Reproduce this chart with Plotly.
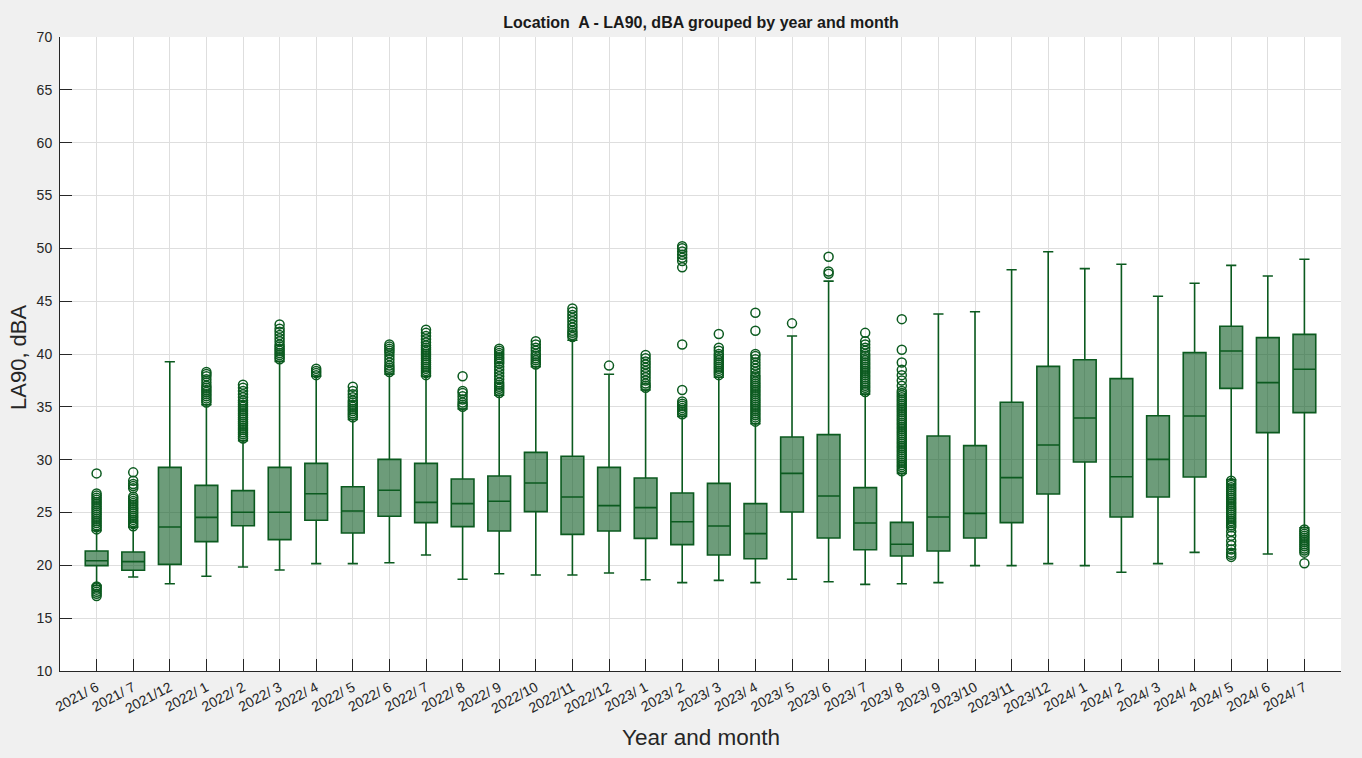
import plotly.graph_objects as go

# Month categories (year / month)
months = ["2021/ 6", "2021/ 7", "2021/12", "2022/ 1", "2022/ 2", "2022/ 3", "2022/ 4",
          "2022/ 5", "2022/ 6", "2022/ 7", "2022/ 8", "2022/ 9", "2022/10", "2022/11",
          "2022/12", "2023/ 1", "2023/ 2", "2023/ 3", "2023/ 4", "2023/ 5", "2023/ 6",
          "2023/ 7", "2023/ 8", "2023/ 9", "2023/10", "2023/11", "2023/12", "2024/ 1",
          "2024/ 2", "2024/ 3", "2024/ 4", "2024/ 5", "2024/ 6", "2024/ 7"]

# Box statistics, LA90 in dBA
q1 = [19.97, 19.53, 20.09, 22.24, 23.75, 22.43, 24.26, 23.06, 24.64, 24.04, 23.66, 23.25,
      25.08, 22.93, 23.25, 22.55, 21.96, 20.98, 20.63, 25.05, 22.59, 21.48, 20.88, 21.36,
      22.59, 24.04, 26.75, 29.78, 24.57, 26.47, 28.36, 36.75, 32.56, 34.45]
median = [20.44, 20.35, 23.63, 24.54, 25.02, 25.02, 26.78, 25.14, 27.10, 25.96, 25.84, 26.06,
          27.79, 26.47, 25.65, 25.46, 24.13, 23.72, 23.00, 28.70, 26.56, 24.00, 21.99, 24.57,
          24.92, 28.30, 31.39, 33.94, 28.39, 30.03, 34.13, 40.28, 37.29, 38.55]
q3 = [21.36, 21.26, 29.27, 27.57, 27.07, 29.27, 29.65, 27.44, 30.03, 29.65, 28.17, 28.45,
      30.69, 30.32, 29.27, 28.26, 26.85, 27.76, 25.84, 32.15, 32.37, 27.35, 24.07, 32.24,
      31.33, 35.43, 38.83, 39.46, 37.67, 34.16, 40.13, 42.62, 41.55, 41.86]
lower_whisker = [18.10, 18.90, 18.26, 18.96, 19.84, 19.56, 20.16, 20.16, 20.25, 20.98, 18.68,
                 19.21, 19.09, 19.09, 19.27, 18.64, 18.36, 18.58, 18.36, 18.68, 18.45, 18.20,
                 18.26, 18.36, 19.97, 19.97, 20.16, 19.97, 19.34, 20.16, 21.23, 28.10, 21.07,
                 23.55]
upper_whisker = [23.30, 23.60, 39.27, 35.20, 31.80, 39.30, 37.90, 33.80, 38.10, 37.90, 34.80,
                 36.10, 38.80, 41.30, 38.08, 36.60, 34.10, 37.80, 33.40, 41.70, 46.90, 36.20,
                 28.70, 43.79, 44.00, 47.98, 49.68, 48.08, 48.49, 45.46, 46.69, 48.39, 47.38,
                 48.96]

# Outlying observations per month
out_2021_06 = [17.1, 17.3, 17.5, 17.7, 17.9, 18.0,
               23.4, 23.6, 23.8, 24.0, 24.2, 24.4, 24.6, 24.8, 25.0, 25.2, 25.4, 25.6, 25.8,
               26.0, 26.2, 26.4, 26.6, 26.8, 28.7]
out_2021_07 = [23.7, 23.9, 24.1, 24.3, 24.5, 24.7, 24.9, 25.1, 25.3, 25.5, 25.7, 25.9, 26.1,
               26.3, 26.5, 27.3, 27.5, 27.7, 28.0, 28.8]
out_2022_01 = [35.4, 35.6, 35.8, 36.0, 36.2, 36.4, 36.6, 36.8, 37.0, 37.3, 37.6, 37.9, 38.1, 38.3]
out_2022_02 = [32.0, 32.2, 32.4, 32.6, 32.8, 33.0, 33.2, 33.4, 33.6, 33.8, 34.0, 34.2, 34.4,
               34.6, 34.8, 35.0, 35.2, 35.4, 35.6, 35.9, 36.2, 36.5, 36.8, 37.1]
out_2022_03 = [39.5, 39.7, 39.9, 40.1, 40.3, 40.5, 40.7, 40.9, 41.2, 41.5, 41.8, 42.1, 42.4, 42.8]
out_2022_04 = [38.0, 38.2, 38.4, 38.6]
out_2022_05 = [34.0, 34.2, 34.4, 34.6, 34.8, 35.0, 35.2, 35.4, 35.6, 35.9, 36.2, 36.5, 36.9]
out_2022_06 = [38.3, 38.5, 38.7, 38.9, 39.2, 39.5, 39.8, 40.1, 40.3, 40.5, 40.7, 40.9]
out_2022_07 = [38.0, 38.2, 38.4, 38.6, 38.8, 39.0, 39.2, 39.4, 39.6, 39.8, 40.0, 40.2, 40.4,
               40.6, 40.8, 41.1, 41.4, 41.7, 42.0, 42.3]
out_2022_08 = [35.0, 35.2, 35.4, 35.7, 36.0, 36.3, 36.5, 37.9]
out_2022_09 = [36.3, 36.5, 36.7, 36.9, 37.1, 37.3, 37.6, 37.9, 38.2, 38.5, 38.8, 39.1, 39.3,
               39.5, 39.7, 39.9, 40.1, 40.3, 40.5]
out_2022_10 = [39.0, 39.2, 39.4, 39.6, 39.8, 40.0, 40.3, 40.6, 40.9, 41.2]
out_2022_11 = [41.6, 41.8, 42.0, 42.2, 42.5, 42.8, 43.1, 43.4, 43.7, 44.0, 44.3]
out_2022_12 = [38.9]
out_2023_01 = [36.8, 37.0, 37.2, 37.5, 37.8, 38.1, 38.4, 38.7, 39.0, 39.3, 39.6, 39.9]
out_2023_02 = [34.3, 34.5, 34.7, 34.9, 35.1, 35.3, 35.5, 36.6, 40.9, 48.2, 48.8, 49.1, 49.4,
               49.7, 50.0, 50.2]
out_2023_03 = [38.0, 38.2, 38.4, 38.6, 38.8, 39.0, 39.2, 39.4, 39.6, 39.8, 40.0, 40.3, 40.6, 41.9]
out_2023_04 = [33.6, 33.8, 34.0, 34.2, 34.4, 34.6, 34.8, 35.0, 35.2, 35.4, 35.6, 35.8, 36.0,
               36.2, 36.4, 36.6, 36.8, 37.0, 37.2, 37.4, 37.6, 37.8, 38.0, 38.3, 38.6, 38.9,
               39.2, 39.5, 39.8, 40.0, 42.2, 43.9]
out_2023_05 = [42.9]
out_2023_06 = [47.6, 47.8, 49.2]
out_2023_07 = [36.4, 36.6, 36.8, 37.0, 37.2, 37.4, 37.6, 37.8, 38.0, 38.2, 38.4, 38.6, 38.8,
               39.0, 39.2, 39.4, 39.6, 39.8, 40.0, 40.3, 40.6, 40.9, 41.2, 42.0]
out_2023_08 = [28.9, 29.1, 29.3, 29.5, 29.7, 29.9, 30.1, 30.3, 30.5, 30.7, 30.9, 31.1, 31.3,
               31.5, 31.7, 31.9, 32.1, 32.3, 32.5, 32.7, 32.9, 33.1, 33.3, 33.5, 33.7, 33.9,
               34.1, 34.3, 34.5, 34.7, 34.9, 35.1, 35.3, 35.5, 35.7, 35.9, 36.1, 36.3, 36.5,
               37.0, 37.5, 38.0, 38.5, 39.2, 40.4, 43.3]
out_2024_05 = [20.8, 21.0, 21.2, 21.5, 21.9, 22.3, 22.8, 23.2, 23.6, 23.8, 24.0, 24.2, 24.4,
               24.6, 24.8, 25.0, 25.2, 25.4, 25.6, 25.8, 26.0, 26.2, 26.4, 26.6, 26.8, 27.0,
               27.2, 27.4, 27.6, 27.8, 28.0]
out_2024_07 = [20.2, 21.2, 21.4, 21.6, 21.8, 22.0, 22.2, 22.4, 22.6, 22.8, 23.0, 23.2, 23.4]

outlier_sets = [
    ("2021/ 6", out_2021_06), ("2021/ 7", out_2021_07), ("2022/ 1", out_2022_01),
    ("2022/ 2", out_2022_02), ("2022/ 3", out_2022_03), ("2022/ 4", out_2022_04),
    ("2022/ 5", out_2022_05), ("2022/ 6", out_2022_06), ("2022/ 7", out_2022_07),
    ("2022/ 8", out_2022_08), ("2022/ 9", out_2022_09), ("2022/10", out_2022_10),
    ("2022/11", out_2022_11), ("2022/12", out_2022_12), ("2023/ 1", out_2023_01),
    ("2023/ 2", out_2023_02), ("2023/ 3", out_2023_03), ("2023/ 4", out_2023_04),
    ("2023/ 5", out_2023_05), ("2023/ 6", out_2023_06), ("2023/ 7", out_2023_07),
    ("2023/ 8", out_2023_08), ("2024/ 5", out_2024_05), ("2024/ 7", out_2024_07),
]

positions = list(range(1, len(months) + 1))
pos_of = dict(zip(months, positions))

out_x, out_y = [], []
for month, values in outlier_sets:
    out_x += [pos_of[month]] * len(values)
    out_y += values

GREEN = "#0b5a1f"
FONT = "Liberation Sans, Arial, Helvetica, sans-serif"
TEXT = "#262626"

fig = go.Figure()
fig.add_trace(go.Box(
    x=positions, q1=q1, median=median, q3=q3,
    lowerfence=lower_whisker, upperfence=upper_whisker,
    width=0.62, whiskerwidth=0.45, boxpoints=False,
    line=dict(color=GREEN, width=1.6),
    fillcolor="rgba(20,95,40,0.62)",
    showlegend=False, hoverinfo="skip",
))
fig.add_trace(go.Scatter(
    x=out_x, y=out_y, mode="markers",
    marker=dict(symbol="circle-open", size=9, color=GREEN, line=dict(width=1.5, color=GREEN)),
    showlegend=False, hoverinfo="skip",
))

fig.update_layout(
    width=1362, height=758,
    margin=dict(l=60, r=21, t=37, b=87),
    paper_bgcolor="#f0f0f0", plot_bgcolor="white",
    font=dict(family=FONT, color=TEXT, size=13),
    title=dict(text="<b>Location  A - LA90, dBA grouped by year and month</b>",
               x=701 / 1362, xanchor="center", xref="container",
               y=1 - 22 / 758, yanchor="middle", yref="container",
               font=dict(size=16, color="#1a1a1a", family=FONT)),
    xaxis=dict(
        range=[0, len(months) + 1], tickmode="array", tickvals=positions, ticktext=months,
        tickangle=-28, ticks="inside", ticklen=12, tickcolor=TEXT, tickfont=dict(size=14),
        ticklabelstandoff=2,
        showgrid=True, gridcolor="#dedede", gridwidth=1,
        showline=True, linecolor=TEXT, linewidth=1, zeroline=False,
    ),
    yaxis=dict(
        range=[10, 70], tickmode="array", tickvals=list(range(10, 71, 5)),
        ticks="inside", ticklen=12, tickcolor=TEXT, tickfont=dict(size=14),
        ticklabelstandoff=4,
        showgrid=True, gridcolor="#dedede", gridwidth=1,
        showline=True, linecolor=TEXT, linewidth=1, zeroline=False,
    ),
    annotations=[
        dict(text="Year and month", xref="paper", yref="paper", x=(701 - 60) / 1281,
             y=-(737 - 671) / 634, xanchor="center", yanchor="middle", showarrow=False,
             font=dict(size=22.5, color=TEXT, family=FONT)),
        dict(text="LA90, dBA", xref="paper", yref="paper", x=-(60 - 18) / 1281,
             y=(671 - 357) / 634, xanchor="center", yanchor="middle", textangle=-90,
             showarrow=False, font=dict(size=22, color=TEXT, family=FONT)),
    ],
)

fig.write_html("out.html")
